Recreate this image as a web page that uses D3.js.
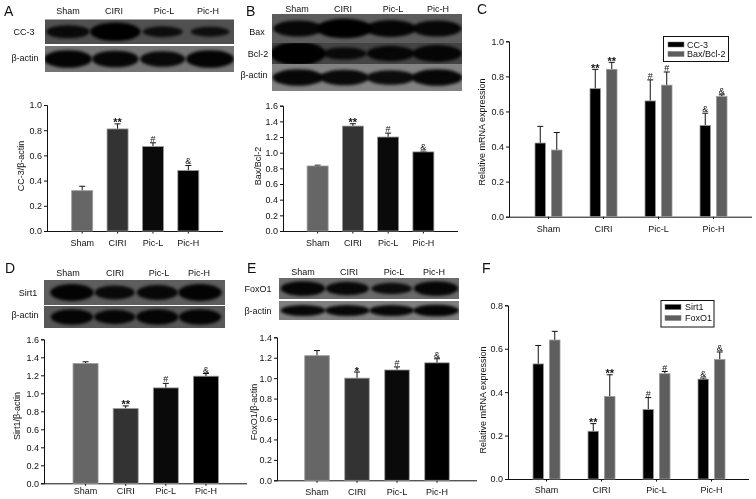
<!DOCTYPE html>
<html><head><meta charset="utf-8">
<script src="https://cdn.jsdelivr.net/npm/d3@7"></script>
<style>
html,body{margin:0;padding:0;background:#fff}
svg{display:block;filter:blur(0.35px)}
text{font-family:"Liberation Sans",Arial,sans-serif;fill:#111}
</style></head><body><svg id="c" width="756" height="499"></svg>
<script>
const groups = ["Sham","CIRI","Pic-L","Pic-H"];
const panelLetters = ["A","B","C","D","E","F"];

// Panel A
const ccValues = [0.32,0.81,0.67,0.48];
const ccErrors = [0.035,0.04,0.03,0.04];
const ccMarks = ["","**","#","&"];
const ccTicks = [0,0.2,0.4,0.6,0.8,1.0];
// Panel B
const baxValues = [0.83,1.34,1.20,1.01];
const baxErrors = [0.01,0.03,0.05,0.01];
const baxMarks = ["","**","#","&"];
const baxTicks = [0,0.2,0.4,0.6,0.8,1.0,1.2,1.4,1.6];
// Panel C
const cMrnaCC3 = [0.42,0.73,0.66,0.52];
const cErrCC3 = [0.095,0.11,0.12,0.07];
const cMarksCC3 = ["","**","#","&"];
const cMrnaBax = [0.38,0.84,0.75,0.685];
const cErrBax = [0.10,0.04,0.075,0.01];
const cMarksBax = ["","**","#","&"];
const cTicks = [0,0.2,0.4,0.6,0.8,1.0];
// Panel D
const sirtValues = [1.33,0.83,1.06,1.19];
const sirtErrors = [0.02,0.03,0.05,0.03];
const sirtMarks = ["","**","#","&"];
const sirtTicks = [0,0.2,0.4,0.6,0.8,1.0,1.2,1.4,1.6];
// Panel E
const foxValues = [1.22,1.00,1.08,1.15];
const foxErrors = [0.05,0.06,0.03,0.04];
const foxMarks = ["","*","#","&"];
const foxTicks = [0,0.2,0.4,0.6,0.8,1.0,1.2,1.4];
// Panel F
const fMrnaSirt = [0.53,0.22,0.32,0.46];
const fErrSirt = [0.085,0.035,0.055,0.005];
const fMarksSirt = ["","**","#","&"];
const fMrnaFox = [0.64,0.38,0.485,0.55];
const fErrFox = [0.04,0.10,0.01,0.035];
const fMarksFox = ["","**","#","&"];
const fTicks = [0,0.2,0.4,0.6,0.8];
// Blot band strengths per lane (estimated)
const blotCC3 = [0.72,1.0,0.6,0.55];
const blotActinA = [0.9,0.85,0.8,0.9];
const blotBax = [0.8,1.0,0.85,0.8];
const blotBcl2 = [1.0,0.65,0.75,0.8];
const blotActinB = [0.85,0.8,0.75,0.85];
const blotSirt1 = [0.9,0.75,0.8,0.9];
const blotActinD = [0.85,0.8,0.85,0.85];
const blotFoxO1 = [0.85,0.8,0.7,0.85];
const blotActinE = [0.85,0.85,0.85,0.9];

const svg = d3.select("#c");
const defs = svg.append("defs");
defs.append("filter").attr("id","soft").attr("x","-30%").attr("y","-60%").attr("width","160%").attr("height","220%")
  .append("feGaussianBlur").attr("stdDeviation",1.8);

const FONT = 9;

function plainText(x,y,s,opt={}){
  return svg.append("text").attr("x",x).attr("y",y).attr("font-size",opt.size||FONT)
    .attr("text-anchor",opt.anchor||"middle").text(s);
}

function barChart(o){
  const g = svg.append("g");
  const y = d3.scaleLinear().domain(o.domain).range([o.y0,o.y1]);
  const x = d3.scaleBand().domain(groups).range(o.band);
  const sub = d3.scaleBand().domain(o.series.map(d=>d.name)).range([-o.spread,o.spread]);
  const ya = g.append("g").attr("transform",`translate(${o.ax},0)`)
    .call(d3.axisLeft(y).tickValues(o.ticks).tickFormat(d3.format(".1f")).tickSize(3).tickPadding(2));
  const xa = g.append("g").attr("transform",`translate(0,${o.y0})`)
    .call(d3.axisBottom(x).tickSize(2.5).tickPadding(o.xPad));
  [ya,xa].forEach(a=>{
    a.selectAll("text").attr("font-size",FONT).attr("font-family",null);
    a.selectAll("path,line").attr("stroke","#111").attr("stroke-width",1);
  });
  xa.select("path.domain").attr("d",`M${o.ax},0.5H${o.xEnd}`);
  o.series.forEach(s=>{
    const cx = g2=>x(g2)+x.bandwidth()/2+(o.series.length>1?sub(s.name)+sub.bandwidth()/2:0);
    const rows = groups.map((k,i)=>({k,v:s.values[i],e:s.errors[i],m:s.marks[i],c:s.colors[i]}));
    const sel = g.append("g").selectAll("g").data(rows).join("g");
    sel.append("line").attr("x1",d=>cx(d.k)).attr("x2",d=>cx(d.k))
      .attr("y1",d=>y(d.v)).attr("y2",d=>y(d.v+d.e)).attr("stroke","#111").attr("stroke-width",1);
    sel.append("line").attr("x1",d=>cx(d.k)-o.cap).attr("x2",d=>cx(d.k)+o.cap)
      .attr("y1",d=>y(d.v+d.e)).attr("y2",d=>y(d.v+d.e)).attr("stroke","#111").attr("stroke-width",1);
    sel.append("rect").attr("x",d=>cx(d.k)-o.barW/2).attr("width",o.barW)
      .attr("y",d=>y(d.v)).attr("height",d=>o.y0-y(d.v)).attr("fill",d=>d.c)
      .attr("stroke","#9a9a9a").attr("stroke-width",0.8);
    sel.append("text").attr("x",d=>cx(d.k)).attr("y",d=>y(d.v+d.e)+(d.m.includes("*")?2.5:-1))
      .attr("text-anchor","middle").attr("font-size",d=>d.m.includes("*")?11:9).attr("font-weight",d=>d.m.includes("*")?"bold":"normal").text(d=>d.m);
  });
  svg.append("text").attr("transform",`translate(${o.labelX},${o.labelY}) rotate(-90)`)
    .attr("text-anchor","middle").attr("font-size",FONT).text(o.label);
}

function blot(o){
  const lane = d3.scalePoint().domain(groups).range(o.lanes);
  const rx = d3.scaleLinear().domain([0.5,1]).range([o.bandW*0.85,o.bandW*1.15]);
  o.rows.forEach(r=>{
    const g = svg.append("g");
    g.append("rect").attr("x",o.x0).attr("y",r.y0).attr("width",o.x1-o.x0).attr("height",r.y1-r.y0).attr("fill",r.bg);
    const h = r.y1-r.y0;
    const ry = d3.scaleLinear().domain([0.5,1]).range([h*0.18,h*r.k]);
    const clipId = "c"+Math.round(o.x0)+"_"+Math.round(r.y0);
    defs.append("clipPath").attr("id",clipId).append("rect").attr("x",o.x0).attr("y",r.y0).attr("width",o.x1-o.x0).attr("height",h);
    g.append("g").attr("clip-path",`url(#${clipId})`).selectAll("ellipse").data(groups.map((k,i)=>({k,v:r.values[i]}))).join("ellipse")
      .attr("cx",d=>lane(d.k)).attr("cy",(r.y0+r.y1)/2).attr("rx",d=>rx(d.v)).attr("ry",d=>ry(d.v))
      .attr("fill","#050505").attr("opacity",d=>0.6+0.4*d.v).attr("filter","url(#soft)");
    plainText(r.lx,r.ly,r.label);
  });
  groups.forEach((k,i)=>plainText(o.heads[i],o.headY,k));
}

function legend(o){
  const g = svg.append("g");
  g.append("rect").attr("x",o.x).attr("y",o.y).attr("width",o.w).attr("height",o.h).attr("fill","#fff").attr("stroke","#111").attr("stroke-width",1);
  o.items.forEach((it,i)=>{
    g.append("rect").attr("x",o.sx).attr("y",o.rows[i]-2.5).attr("width",16).attr("height",5).attr("fill",it.c).attr("stroke","#777").attr("stroke-width",.5);
    g.append("text").attr("x",o.tx).attr("y",o.rows[i]+3).attr("font-size",FONT).text(it.n);
  });
}

const singleColors = ["#666666","#333333","#0a0a0a","#000000"];
const black4 = ["#000","#000","#000","#000"], gray4 = ["#5e5e5e","#5e5e5e","#5e5e5e","#5e5e5e"];

blot({x0:45,x1:234,lanes:[68,210],bandW:22,headY:14,heads:[68,114,164,208],rows:[
  {y0:19.5,y1:44,bg:"#505050",k:.38,values:blotCC3,label:"CC-3",lx:24,ly:35},
  {y0:46,y1:72,bg:"#747474",k:.38,values:blotActinA,label:"β-actin",lx:25,ly:61}]});
blot({x0:272,x1:462,lanes:[298,437],bandW:24,headY:12,heads:[297,343,393,438],rows:[
  {y0:14,y1:43,bg:"#5c5c5c",k:.34,values:blotBax,label:"Bax",lx:257,ly:35},
  {y0:43,y1:64,bg:"#444444",k:.55,values:blotBcl2,label:"Bcl-2",lx:258,ly:57},
  {y0:64,y1:91,bg:"#828282",k:.36,values:blotActinB,label:"β-actin",lx:254,ly:78}]});
blot({x0:44,x1:225,lanes:[72,200],bandW:20,headY:276,heads:[68,115,159,199],rows:[
  {y0:280,y1:305,bg:"#5e5e5e",k:.38,values:blotSirt1,label:"Sirt1",lx:28,ly:296},
  {y0:306,y1:328,bg:"#585858",k:.42,values:blotActinD,label:"β-actin",lx:25,ly:318}]});
blot({x0:279,x1:459,lanes:[303,436],bandW:21,headY:275,heads:[303,349,394,434],rows:[
  {y0:278,y1:299,bg:"#6a6a6a",k:.42,values:blotFoxO1,label:"FoxO1",lx:258,ly:292},
  {y0:301,y1:320,bg:"#808080",k:.34,values:blotActinE,label:"β-actin",lx:258,ly:314}]});

barChart({domain:[0,1],ticks:ccTicks,y0:231,y1:105,ax:47,xEnd:223,band:[64.5,206],barW:21,cap:3,spread:0,xPad:6,
  series:[{name:"a",values:ccValues,errors:ccErrors,marks:ccMarks,colors:singleColors}],label:"CC-3/β-actin",labelX:24,labelY:166});
barChart({domain:[0,1.6],ticks:baxTicks,y0:231,y1:105.7,ax:283,xEnd:458,band:[300,441],barW:21,cap:3,spread:0,xPad:6,
  series:[{name:"a",values:baxValues,errors:baxErrors,marks:baxMarks,colors:singleColors}],label:"Bax/Bcl-2",labelX:261,labelY:166});
barChart({domain:[0,1],ticks:cTicks,y0:216.7,y1:41.3,ax:509,xEnd:752,band:[521,741],barW:10.5,cap:3,spread:16.5,xPad:6,
  series:[{name:"CC-3",values:cMrnaCC3,errors:cErrCC3,marks:cMarksCC3,colors:black4},
          {name:"Bax/Bcl-2",values:cMrnaBax,errors:cErrBax,marks:cMarksBax,colors:gray4}],label:"Relative mRNA expression",labelX:485,labelY:132});
barChart({domain:[0,1.6],ticks:sirtTicks,y0:483.3,y1:339.3,ax:44,xEnd:247,band:[65.5,226],barW:25,cap:3,spread:0,xPad:2,
  series:[{name:"a",values:sirtValues,errors:sirtErrors,marks:sirtMarks,colors:singleColors}],label:"Sirt1/β-actin",labelX:20,labelY:416});
barChart({domain:[0,1.4],ticks:foxTicks,y0:480.3,y1:337.3,ax:277,xEnd:477,band:[297,457],barW:24.5,cap:3,spread:0,xPad:6,
  series:[{name:"a",values:foxValues,errors:foxErrors,marks:foxMarks,colors:singleColors}],label:"FoxO1/β-actin",labelX:257,labelY:412});
barChart({domain:[0,0.8],ticks:fTicks,y0:479,y1:305.3,ax:508,xEnd:749,band:[519,739],barW:10.5,cap:3,spread:16.5,xPad:5,
  series:[{name:"Sirt1",values:fMrnaSirt,errors:fErrSirt,marks:fMarksSirt,colors:black4},
          {name:"FoxO1",values:fMrnaFox,errors:fErrFox,marks:fMarksFox,colors:gray4}],label:"Relative mRNA expression",labelX:486,labelY:400});

legend({x:663.5,y:36.5,w:65,h:25,sx:668,tx:687,rows:[44.5,54],items:[{n:"CC-3",c:"#000"},{n:"Bax/Bcl-2",c:"#5e5e5e"}]});
legend({x:661,y:300.5,w:53,h:26.5,sx:665,tx:685,rows:[307,318],items:[{n:"Sirt1",c:"#000"},{n:"FoxO1",c:"#5e5e5e"}]});

const letterPos = [[4,16],[246,16],[477,14],[5,273],[247,273],[482,273]];
panelLetters.forEach((l,i)=>plainText(letterPos[i][0],letterPos[i][1],l,{anchor:"start",size:14}));
</script></body></html>
